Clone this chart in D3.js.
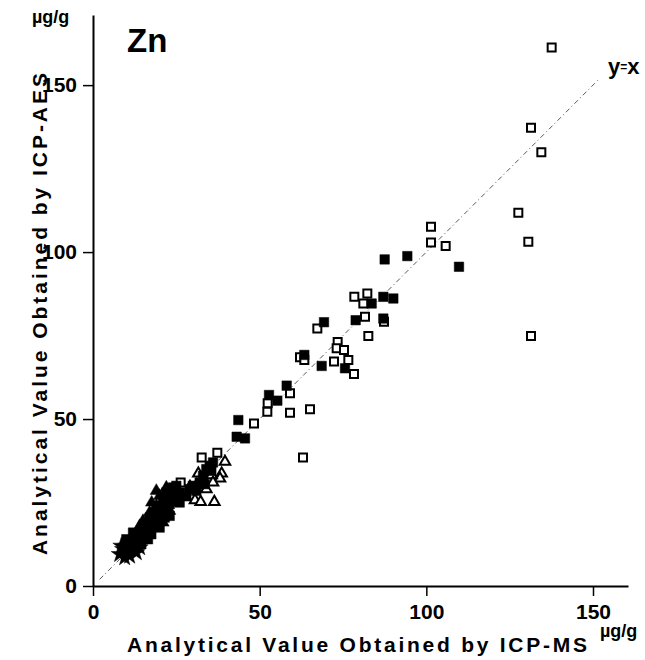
<!DOCTYPE html>
<html lang="en">
  <head>
    <meta charset="UTF-8" />
    <title>Zn: ICP-AES vs ICP-MS</title>
    <style>
      body { margin: 0; background: white; }
      text { font-family: "Liberation Sans", Arial, Helvetica, sans-serif; }
    </style>
    <script src="https://d3js.org/d3.v7.min.js"></script>
  </head>
  <body>
    <div id="svg-container"></div>
    <script>
      // data: [ICP-MS, ICP-AES] in ug/g
      const openSquares = [
        [137.6, 161.3], [131.4, 137.2], [134.5, 129.9], [127.6, 111.8], [130.6, 103.1],
        [131.4, 74.9], [101.4, 107.6], [101.4, 102.9], [105.8, 101.8],
        [78.4, 86.6], [82.3, 87.6], [81.1, 84.6], [81.6, 80.6], [87.3, 79.1], [82.6, 74.9],
        [67.3, 77.1], [73.4, 73.1], [73.1, 71.2], [75.3, 70.7], [76.6, 67.7], [72.3, 67.2],
        [78.3, 63.5], [62.1, 68.5], [63.4, 67.7], [59.1, 57.7], [52.4, 54.7], [52.3, 52.2],
        [59.1, 51.9], [65.1, 52.9], [48.3, 48.7], [63.0, 38.5], [32.6, 38.5], [37.3, 39.9],
        [26.3, 31.0]
      ];
      const filledSquares = [
        [94.3, 98.8], [109.8, 95.6], [87.5, 97.8], [87.1, 86.6], [90.1, 86.1], [87.1, 80.1],
        [83.6, 84.6], [78.8, 79.6], [69.3, 79.0], [75.6, 65.2], [68.6, 65.9], [63.4, 69.2],
        [58.1, 60.0], [52.8, 57.2], [55.3, 55.5], [43.6, 49.7], [43.1, 44.7], [45.6, 44.2],
        [35, 36], [36, 37], [34, 35], [33, 33], [35.5, 34.5], [32, 31], [30, 30], [31, 28.5],
        [29, 29], [28, 27], [33.5, 30.5],
        [12, 14], [13, 15.5], [14, 14], [15, 16], [14.5, 12.5], [16, 15], [15, 17.5], [17, 17],
        [16, 19], [18, 19], [17, 20.5], [19, 18], [18, 21.5], [20, 20], [19, 22.5], [21, 22],
        [20, 24], [22, 23], [21, 25.5], [23, 26], [22, 28], [24, 28], [23, 24.5], [25, 27],
        [24, 29.5], [26, 28], [25, 30], [17.5, 15.5], [19.5, 20], [21.5, 20.5], [16.5, 14],
        [20, 17.5], [13, 12.5], [12, 16], [10, 14], [23, 21], [26, 25]
      ];
      const openTriangles = [
        [39.6, 37.2], [38.6, 33.7], [38.1, 32.2], [35.6, 33.2], [31.6, 33.7], [31.1, 30.2],
        [29.1, 29.7], [27.9, 26.6], [30.6, 25.7], [32.3, 25.2], [36.4, 25.2], [34, 29], [36, 31]
      ];
      const filledTriangles = [
        [15, 19.5], [17, 22], [17.6, 25], [19, 24], [20, 27], [22, 29.5], [16, 17], [21, 19],
        [23, 22.5], [24, 25], [13, 16], [14, 18], [19, 28.5]
      ];
      const stars = [
        [10, 10], [11, 9], [12, 11], [10, 12], [13, 10], [11.5, 13], [9, 11], [12.5, 12.5],
        [14, 11.5], [9.5, 8.5], [11, 11], [8, 9.5], [8.5, 12]
      ];
      const xTicks = [0, 50, 100, 150];
      const yTicks = [0, 50, 100, 150];
      const identityLine = [[2, 2], [152, 152]];

      const width = 645;
      const height = 660;

      const svg = d3
        .select("#svg-container")
        .append("svg")
        .attr("width", width)
        .attr("height", height);

      svg.append("rect").attr("width", width).attr("height", height).attr("fill", "white");

      const x = d3.scaleLinear().domain([0, 160.5]).range([93, 628]);
      const y = d3.scaleLinear().domain([0, 171]).range([586, 15]);

      // y = x reference line
      svg
        .append("path")
        .datum(identityLine)
        .attr("fill", "none")
        .attr("stroke", "#444")
        .attr("stroke-width", 0.9)
        .attr("stroke-dasharray", "5,3,1,3")
        .attr("d", d3.line().x(d => x(d[0])).y(d => y(d[1])));

      // axes
      const xAxis = svg
        .append("g")
        .attr("transform", `translate(0,${y(0)})`)
        .call(d3.axisBottom(x).tickValues(xTicks).tickSizeInner(10).tickSizeOuter(0).tickPadding(8));
      const yAxis = svg
        .append("g")
        .attr("transform", `translate(${x(0)},0)`)
        .call(d3.axisLeft(y).tickValues(yTicks).tickSizeInner(10).tickSizeOuter(0).tickPadding(6));

      [xAxis, yAxis].forEach(g => {
        g.select(".domain").attr("stroke", "#000").attr("stroke-width", 2);
        g.selectAll(".tick line").attr("stroke", "#000").attr("stroke-width", 1.5);
        g.selectAll(".tick text")
          .attr("fill", "#000")
          .attr("font-size", 21)
          .attr("font-weight", "bold")
          .attr("font-family", '"Liberation Sans", Arial, sans-serif');
      });

      // markers
      function drawMarkers(data, type, size, filled) {
        svg
          .append("g")
          .selectAll("path")
          .data(data)
          .join("path")
          .attr("transform", d => `translate(${x(d[0])},${y(d[1])})`)
          .attr("d", d3.symbol().type(type).size(size))
          .attr("fill", filled ? "#000" : "#fff")
          .attr("stroke", "#000")
          .attr("stroke-width", filled ? 0.5 : 2);
      }

      drawMarkers(openSquares, d3.symbolSquare, 64, false);
      drawMarkers(openTriangles, d3.symbolTriangle, 48, false);
      drawMarkers(filledSquares, d3.symbolSquare, 90, true);
      drawMarkers(filledTriangles, d3.symbolTriangle, 66, true);
      drawMarkers(stars, d3.symbolStar, 90, true);

      // labels
      svg
        .append("text")
        .attr("x", 127)
        .attr("y", 52)
        .attr("font-size", 33)
        .attr("font-weight", "bold")
        .text("Zn");

      svg
        .append("text")
        .attr("x", 32)
        .attr("y", 23)
        .attr("font-size", 18)
        .attr("font-weight", "bold")
        .text("µg/g");

      svg
        .append("text")
        .attr("x", 600)
        .attr("y", 637)
        .attr("font-size", 18)
        .attr("font-weight", "bold")
        .text("µg/g");

      const yx = svg
        .append("text")
        .attr("x", 608)
        .attr("y", 74)
        .attr("font-size", 22)
        .attr("font-weight", "bold");
      yx.append("tspan").text("y");
      yx.append("tspan").attr("font-size", 12).attr("dy", -3).text("=");
      yx.append("tspan").attr("dy", 3).text("x");

      svg
        .append("text")
        .attr("x", 127)
        .attr("y", 652)
        .attr("font-size", 21)
        .attr("font-weight", "bold")
        .attr("textLength", 460)
        .attr("lengthAdjust", "spacing")
        .text("Analytical Value Obtained by ICP-MS");

      svg
        .append("text")
        .attr("transform", "translate(47,555) rotate(-90)")
        .attr("font-size", 21)
        .attr("font-weight", "bold")
        .attr("textLength", 482)
        .attr("lengthAdjust", "spacing")
        .text("Analytical Value Obtained by ICP-AES");
    </script>
  </body>
</html>
